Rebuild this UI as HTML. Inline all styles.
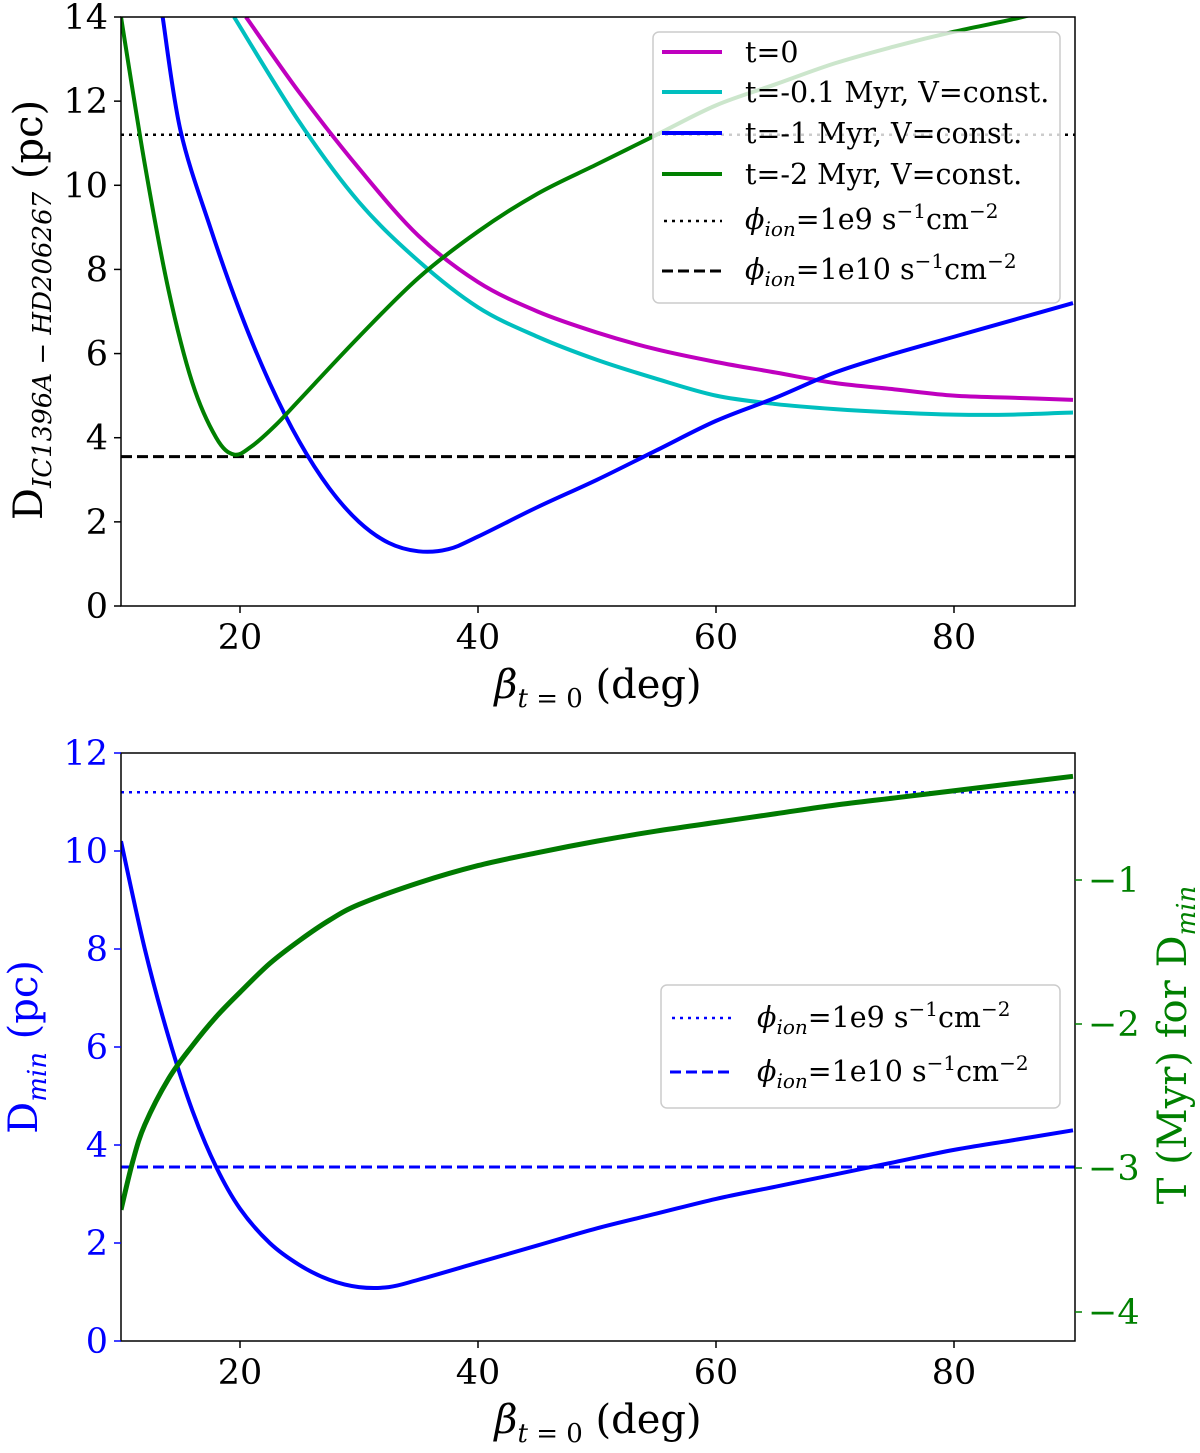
<!DOCTYPE html>
<html><head><meta charset="utf-8">
<style>
body{margin:0;background:#fff;}
svg{display:block;font-family:"DejaVu Serif","Liberation Serif",serif;}
</style></head>
<body>
<svg id="c" width="1200" height="1453" viewBox="0 0 1200 1453"></svg>
<script>
const xTicks=[20,40,60,80];
const topYTicks=[0,2,4,6,8,10,12,14];
const botYTicks=[0,2,4,6,8,10,12];
const rightTicks=[-1,-2,-3,-4];
const t0X=[20.5,25,30,35,40,45,50,55,60,65,70,75,80,85,90];
const t0Y=[14,12.2,10.4,8.8,7.7,7.0,6.5,6.1,5.8,5.55,5.3,5.15,5.0,4.95,4.9];
const t01X=[19.5,25,30,35,40,45,50,55,60,65,70,75,80,85,90];
const t01Y=[14,11.5,9.6,8.2,7.1,6.4,5.85,5.4,5.0,4.8,4.68,4.6,4.55,4.55,4.6];
const t1X=[13.5,15,17.5,20,22.5,25,27.5,30,32.5,35,37.5,40,45,50,55,60,65,70,75,80,85,90];
const t1Y=[14,11.3,9,7.0,5.3,3.9,2.8,2.0,1.5,1.3,1.35,1.65,2.35,3.0,3.7,4.4,4.95,5.55,6.0,6.4,6.8,7.2];
const t2X=[10,12,14,16,18,19.5,21,23,25,30,35,40,45,50,55,60,65,70,75,80,85,90];
const t2Y=[14,10.5,7.5,5.3,4.0,3.6,3.8,4.3,4.9,6.4,7.8,8.9,9.8,10.5,11.2,11.9,12.4,12.9,13.3,13.65,13.95,14.3];
const dminX=[10,12,14,16,18,20,22.5,25,27.5,30,32.5,35,40,45,50,55,60,65,70,75,80,85,90];
const dminY=[10.2,8.0,6.2,4.7,3.55,2.7,2.0,1.55,1.25,1.1,1.1,1.25,1.6,1.95,2.3,2.6,2.9,3.15,3.4,3.65,3.9,4.1,4.3];
const tX=[10,11,12,14,16,18,20,22.5,25,27.5,30,35,40,45,50,55,60,65,70,75,80,85,90];
const tY=[-3.29,-2.95,-2.7,-2.38,-2.15,-1.95,-1.78,-1.58,-1.42,-1.28,-1.17,-1.02,-0.9,-0.81,-0.73,-0.66,-0.6,-0.54,-0.48,-0.43,-0.38,-0.33,-0.28];
const flux9=11.2, flux10=3.55;

const svg=document.getElementById('c');
const NS='http://www.w3.org/2000/svg';
function mk(tag,at,parent){const e=document.createElementNS(NS,tag);for(const k in at)e.setAttribute(k,at[k]);(parent||svg).appendChild(e);return e;}
const X=v=>121+(v-10)*(1073-121)/80;
const Yt=v=>606-v*(606-17)/14;
const Yb=v=>1341-v*(1341-753)/12;
const Yr=v=>880-(v+1)*144;
function pathD(xs,ys,fy){
  const p=xs.map((x,i)=>[X(x),fy(ys[i])]);
  let d='M'+p[0][0]+','+p[0][1];
  for(let i=0;i<p.length-1;i++){
    const p0=p[i-1]||p[i],p1=p[i],p2=p[i+1],p3=p[i+2]||p[i+1];
    d+=' C'+(p1[0]+(p2[0]-p0[0])/6)+','+(p1[1]+(p2[1]-p0[1])/6)+' '+(p2[0]-(p3[0]-p1[0])/6)+','+(p2[1]-(p3[1]-p1[1])/6)+' '+p2[0]+','+p2[1];
  }
  return d;
}
function txt(s,at,name,html){const e=mk('text',at);if(html)e.innerHTML=s;else e.textContent=s;

return e;}

const TF=35, LF=28.5, AF=40;
// ---------- top panel ----------
const cp1=mk('clipPath',{id:'cp1'});mk('rect',{x:121,y:17,width:954,height:589},cp1);
const cp2=mk('clipPath',{id:'cp2'});mk('rect',{x:121,y:753,width:954,height:588},cp2);
const g1=mk('g',{'clip-path':'url(#cp1)'});


let e;
e=mk('line',{x1:121,x2:1075,y1:Yt(flux9),y2:Yt(flux9),stroke:'#000','stroke-width':2.5,'stroke-dasharray':'3,5'},g1);

e=mk('line',{x1:121,x2:1075,y1:Yt(flux10),y2:Yt(flux10),stroke:'#000','stroke-width':3,'stroke-dasharray':'11,5'},g1);

[[t0X,t0Y,'#bf00bf','curve-t0'],[t01X,t01Y,'#00bfbf','curve-t-0.1'],[t1X,t1Y,'#0000ff','curve-t-1'],[t2X,t2Y,'#008000','curve-t-2']].forEach(s=>{
  const p=mk('path',{d:pathD(s[0],s[1],Yt),fill:'none',stroke:s[2],'stroke-width':4},g1);
  
  
});
mk('rect',{x:121,y:17,width:954,height:589,fill:'none',stroke:'#000','stroke-width':1.5});
xTicks.forEach(v=>{mk('line',{x1:X(v),x2:X(v),y1:606,y2:613,stroke:'#000','stroke-width':1.5});
  txt(v,{x:X(v),y:649,'font-size':TF,'text-anchor':'middle'},'top-x-tick');});
topYTicks.forEach(v=>{mk('line',{x1:114,x2:121,y1:Yt(v),y2:Yt(v),stroke:'#000','stroke-width':1.5});
  txt(v,{x:108,y:Yt(v)+12,'font-size':TF,'text-anchor':'end'},'top-y-tick');});
txt('<tspan font-style="italic">β</tspan><tspan font-size="26" dy="9"><tspan font-style="italic">t</tspan> = 0</tspan><tspan dy="-9"> (deg)</tspan>',{x:598,y:698,'font-size':AF,'text-anchor':'middle'},'top-x-axis-title',true);
txt('D<tspan font-size="26" dy="9" font-style="italic">IC1396A − HD206267</tspan><tspan dy="-9"> (pc)</tspan>',{x:0,y:0,'font-size':AF,'text-anchor':'middle',transform:'translate(42,310) rotate(-90)'},'top-y-axis-title',true);
// legend
const lg=mk('g',{});


mk('rect',{x:653,y:32,width:407,height:271,rx:6,fill:'rgba(255,255,255,0.8)',stroke:'#ccc','stroke-width':1.5},lg);
const le=[['#bf00bf','t=0'],['#00bfbf','t=-0.1 Myr, V=const.'],['#0000ff','t=-1 Myr, V=const.'],['#008000','t=-2 Myr, V=const.']];
const ly=[52,92,133,174];
le.forEach((l,i)=>{mk('line',{x1:662,x2:722,y1:ly[i],y2:ly[i],stroke:l[0],'stroke-width':4},lg);
  txt(l[1],{x:745,y:ly[i]+10,'font-size':LF},'legend-entry');});
mk('line',{x1:664,x2:722,y1:221,y2:221,stroke:'#000','stroke-width':2.5,'stroke-dasharray':'3,5'},lg);
mk('line',{x1:662,x2:722,y1:271,y2:271,stroke:'#000','stroke-width':3,'stroke-dasharray':'11,5'},lg);
const fl9='<tspan font-style="italic">ϕ</tspan><tspan font-size="20" dy="7" font-style="italic">ion</tspan><tspan dy="-7">=1e9 s</tspan><tspan font-size="20" dy="-11">−1</tspan><tspan dy="11">cm</tspan><tspan font-size="20" dy="-11">−2</tspan>';
const fl10=fl9.replace('1e9','1e10');
txt(fl9,{x:745,y:229,'font-size':LF},'legend-entry',true);
txt(fl10,{x:745,y:279,'font-size':LF},'legend-entry',true);

// ---------- bottom panel ----------
const g2=mk('g',{'clip-path':'url(#cp2)'});


e=mk('line',{x1:121,x2:1075,y1:Yb(flux9),y2:Yb(flux9),stroke:'#0000ff','stroke-width':2.5,'stroke-dasharray':'3,5'},g2);

e=mk('line',{x1:121,x2:1075,y1:Yb(flux10),y2:Yb(flux10),stroke:'#0000ff','stroke-width':3,'stroke-dasharray':'11,5'},g2);

e=mk('path',{d:pathD(dminX,dminY,Yb),fill:'none',stroke:'#0000ff','stroke-width':4},g2);

e=mk('path',{d:pathD(tX,tY,Yr),fill:'none',stroke:'#007a00','stroke-width':5},g2);

mk('rect',{x:121,y:753,width:954,height:588,fill:'none',stroke:'#000','stroke-width':1.5});
xTicks.forEach(v=>{mk('line',{x1:X(v),x2:X(v),y1:1341,y2:1348,stroke:'#000','stroke-width':1.5});
  txt(v,{x:X(v),y:1384,'font-size':TF,'text-anchor':'middle'},'bottom-x-tick');});
botYTicks.forEach(v=>{mk('line',{x1:114,x2:121,y1:Yb(v),y2:Yb(v),stroke:'#0000ff','stroke-width':1.5});
  txt(v,{x:108,y:Yb(v)+12,'font-size':TF,'text-anchor':'end',fill:'#0000ff'},'left-y-tick');});
rightTicks.forEach(v=>{mk('line',{x1:1075,x2:1082,y1:Yr(v),y2:Yr(v),stroke:'#008000','stroke-width':1.5});
  txt('−'+Math.abs(v),{x:1088,y:Yr(v)+12,'font-size':TF,fill:'#008000'},'right-y-tick');});
txt('<tspan font-style="italic">β</tspan><tspan font-size="26" dy="9"><tspan font-style="italic">t</tspan> = 0</tspan><tspan dy="-9"> (deg)</tspan>',{x:598,y:1433,'font-size':AF,'text-anchor':'middle'},'bottom-x-axis-title',true);
txt('D<tspan font-size="26" dy="9" font-style="italic">min</tspan><tspan dy="-9"> (pc)</tspan>',{x:0,y:0,'font-size':AF,'text-anchor':'middle',fill:'#0000ff',transform:'translate(37,1047) rotate(-90)'},'left-y-axis-title',true);
txt('T (Myr) for D<tspan font-size="26" dy="9" font-style="italic">min</tspan>',{x:0,y:0,'font-size':AF,'text-anchor':'middle',fill:'#008000',transform:'translate(1186,1045) rotate(-90)'},'right-y-axis-title',true);
const lg2=mk('g',{});


mk('rect',{x:661,y:985,width:399,height:123,rx:6,fill:'rgba(255,255,255,0.8)',stroke:'#ccc','stroke-width':1.5},lg2);
mk('line',{x1:672,x2:732,y1:1018,y2:1018,stroke:'#0000ff','stroke-width':2.5,'stroke-dasharray':'3,5'},lg2);
mk('line',{x1:670,x2:732,y1:1072,y2:1072,stroke:'#0000ff','stroke-width':3,'stroke-dasharray':'11,5'},lg2);
txt(fl9,{x:757,y:1027,'font-size':LF},'legend-entry',true);
txt(fl10,{x:757,y:1081,'font-size':LF},'legend-entry',true);
</script>
</body></html>
